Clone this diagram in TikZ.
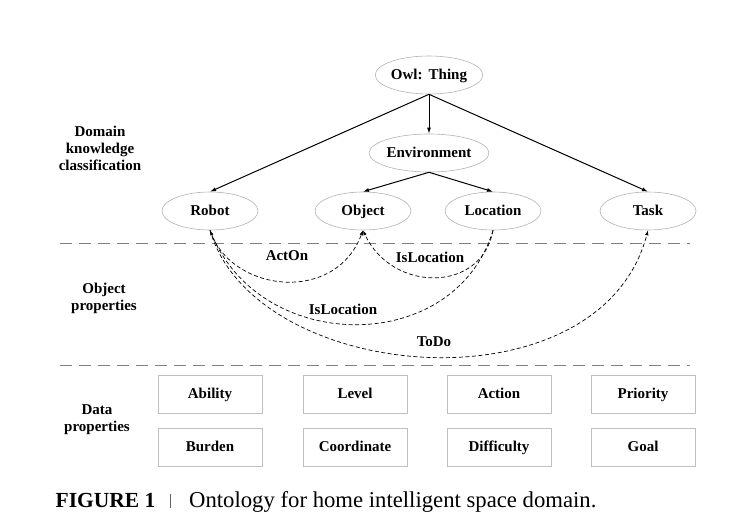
\documentclass[tikz,border=0pt]{standalone}
\usepackage{fontspec}
\setmainfont{Liberation Serif}
\usetikzlibrary{arrows.meta,shapes.geometric}

\begin{document}
\begin{tikzpicture}[x=1pt, y=-1pt, line width=0.6pt,
      every node/.append style={font=\fontsize{15}{17}\selectfont\bfseries},
      class/.style={ellipse, draw=gray!60, minimum width=96pt, minimum height=38pt, inner sep=0pt, text height=11pt, text depth=2pt},
      prop/.style={rectangle, draw=gray!50, minimum width=104pt, minimum height=38pt, inner sep=0pt, text height=11pt, text depth=2pt},
      isa/.style={-{Latex[length=6pt,width=4pt]}, line width=1pt},
      rel/.style={dash pattern=on 4pt off 2.5pt, -{Latex[length=5pt,width=3.5pt]}, line width=0.7pt},
      sep/.style={draw=gray, dash pattern=on 12pt off 7pt, line width=0.9pt}]
	  \useasboundingbox (0,0) rectangle (733,525);
	  % classes
	  \node (thing) [class] at (429,75) {Owl:\hspace{6pt}Thing};
	  \node (env) [class] at (429,153) {Environment};
	  \node (robot) [class] at (210,211) {Robot};
	  \node (object) [class] at (363,211) {Object};
	  \node (location) [class] at (493,211) {Location};
	  \node (task) [class] at (648,211) {Task};
	  \draw[isa] (thing.south) -- (robot.north);
	  \draw[isa] (thing.south) -- (env.north);
	  \draw[isa] (thing.south) -- (task.north);
	  \draw[isa] (env.south) -- (object.north);
	  \draw[isa] (env.south) -- (location.north);
	  % layers
	  \draw[sep] (60,243) -- (690,243);
	  \draw[sep] (60,365) -- (690,365);
	  \node (domain) [align=center] at (100,148) {Domain\\knowledge\\classification};
	  \node (objprop) [align=center] at (104,298) {Object\\properties};
	  \node (dataprop) [align=center] at (97,420) {Data\\properties};
	  % object properties
	  \draw[rel] (robot.south) .. controls (230,292) and (335,305) .. (object.south);
	  \draw[rel] (location.south) .. controls (482,293) and (392,293) .. (object.south);
	  \draw[rel] (location.south) .. controls (455,356) and (262,355) .. (robot.south);
	  \draw[rel] (robot.south) .. controls (255,385) and (600,413) .. (task.south);
	  \node (acton) at (287,256) {ActOn};
	  \node (isloc1) at (430,257) {IsLocation};
	  \node (isloc2) at (343,309) {IsLocation};
	  \node (todo) at (434,342) {ToDo};
	  % data properties
	  \node (ability) [prop] at (210,394) {Ability};
	  \node (level) [prop] at (355,394) {Level};
	  \node (action) [prop] at (499,394) {Action};
	  \node (priority) [prop] at (643,394) {Priority};
	  \node (burden) [prop] at (210,447) {Burden};
	  \node (coord) [prop] at (355,447) {Coordinate};
	  \node (difficulty) [prop] at (499,447) {Difficulty};
	  \node (goal) [prop] at (643,447) {Goal};
	  % caption
	  \node (caption) [anchor=base west, font=\fontsize{22.7}{26}\selectfont] at (52,507)
	    {{\fontsize{21.5}{26}\selectfont\textbf{FIGURE 1}}\hspace{15pt}{\color{gray!80!black}\rule[-1pt]{0.8pt}{14pt}}\hspace{18pt}Ontology for home intelligent space domain.};
\end{tikzpicture}
\end{document}
